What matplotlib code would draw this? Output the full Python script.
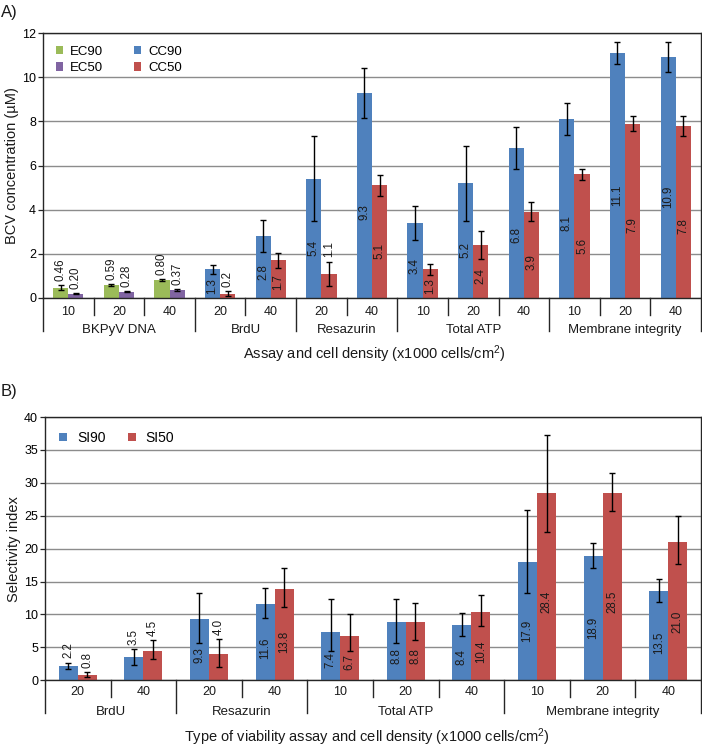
import matplotlib
matplotlib.use('Agg')
import matplotlib.pyplot as plt
import numpy as np

plt.rcParams['font.family'] = ['Liberation Sans', 'DejaVu Sans']
plt.rcParams['mathtext.default'] = 'regular'

# ---- panel A data ----
density_a = ['10', '20', '40', '20', '40', '20', '40', '10', '20', '40', '10', '20', '40']
assay_a = ['BKPyV DNA', 'BrdU', 'Resazurin', 'Total ATP', 'Membrane integrity']
assay_a_n = [3, 2, 2, 3, 3]
ec90 = [0.46, 0.59, 0.80]
ec90_err = [0.12, 0.03, 0.05]
ec50 = [0.20, 0.28, 0.37]
ec50_err = [0.04, 0.02, 0.04]
cc90 = [1.3, 2.8, 5.4, 9.3, 3.4, 5.2, 6.8, 8.1, 11.1, 10.9]
cc90_err = [0.2, 0.72, 1.92, 1.13, 0.76, 1.7, 0.95, 0.72, 0.5, 0.67]
cc50 = [0.2, 1.7, 1.1, 5.1, 1.3, 2.4, 3.9, 5.6, 7.9, 7.8]
cc50_err = [0.1, 0.35, 0.55, 0.48, 0.26, 0.65, 0.43, 0.25, 0.33, 0.45]

# ---- panel B data ----
density_b = ['20', '40', '20', '40', '10', '20', '40', '10', '20', '40']
assay_b = ['BrdU', 'Resazurin', 'Total ATP', 'Membrane integrity']
assay_b_n = [2, 2, 3, 3]
si90 = [2.2, 3.5, 9.3, 11.6, 7.4, 8.8, 8.4, 17.9, 18.9, 13.5]
si90_lo = [0.5, 1.1, 3.6, 2.1, 2.9, 3.2, 1.6, 4.6, 1.9, 1.65]
si90_hi = [0.5, 1.25, 4.0, 2.4, 4.95, 3.6, 1.9, 8.0, 2.0, 1.9]
si50 = [0.8, 4.5, 4.0, 13.8, 6.7, 8.8, 10.4, 28.4, 28.5, 21.0]
si50_lo = [0.35, 1.3, 2.0, 2.7, 2.25, 2.7, 2.1, 5.9, 2.8, 3.3]
si50_hi = [0.4, 1.6, 2.2, 3.2, 3.4, 3.0, 2.6, 8.8, 3.05, 4.0]

GREEN = '#9BBB59'
PURPLE = '#8064A2'
BLUE = '#4F81BD'
RED = '#C0504D'
TXT = '#1a1a1a'


def style_axes(ax, ymax, step):
    ax.set_ylim(0, ymax)
    ax.set_yticks(np.arange(0, ymax + step / 2, step))
    ax.yaxis.grid(True, color='#8c8c8c', lw=1.0)
    ax.set_axisbelow(True)
    ax.set_xticks([])
    ax.tick_params(axis='y', length=3.5, width=0.9, pad=1.5, labelsize=9, color='#262626')
    for s in ax.spines.values():
        s.set_color('#262626')
        s.set_linewidth(1.0)


def group_axis(ax, density, assays, counts, tick_px, cat_px, minor_px, major_px):
    h = ax.bbox.height
    tr = ax.get_xaxis_transform()
    majors = np.concatenate([[0], np.cumsum(counts)]) - 0.5
    for b in np.arange(len(density) + 1) - 0.5:
        L = major_px if np.isclose(majors, b).any() else minor_px
        ax.plot([b, b], [0, -L / h], transform=tr, color='#262626', lw=1.0, clip_on=False)
    for i, d in enumerate(density):
        ax.text(i, -tick_px / h, d, transform=tr, ha='center', va='center', fontsize=9, color=TXT)
    for j, name in enumerate(assays):
        ax.text((majors[j] + majors[j + 1]) / 2, -cat_px / h, name, transform=tr,
                ha='center', va='center', fontsize=9.5, color=TXT)


def bar_labels(ax, x, vals, hi, fmt, thresh):
    for xi, v, e in zip(x, vals, hi):
        if v < thresh:
            ax.annotate(fmt.format(v), (xi, v + e), xytext=(0, 3), textcoords='offset points',
                        rotation=90, ha='center', va='bottom', fontsize=8.3, color=TXT)
        else:
            ax.text(xi, v * 0.42, fmt.format(v), rotation=90, ha='center', va='center',
                    fontsize=8.3, color=TXT)


fig = plt.figure(figsize=(7.02, 7.49), dpi=100)
W, H = 702.0, 749.0

# ================= panel A =================
axA = fig.add_axes([43 / W, 1 - 298 / H, 658 / W, 265 / H])
style_axes(axA, 12, 2)
axA.set_xlim(-0.5, 12.5)
bw = 0.30
err_kw = dict(ecolor='black', elinewidth=1.0, capsize=2.2, capthick=1.0)

xe = np.arange(3)
xc = np.arange(3, 13)
axA.bar(xe - bw / 2, ec90, bw, color=GREEN, yerr=ec90_err, error_kw=err_kw, label='EC90')
axA.bar(xe + bw / 2, ec50, bw, color=PURPLE, yerr=ec50_err, error_kw=err_kw, label='EC50')
axA.bar(xc - bw / 2, cc90, bw, color=BLUE, yerr=cc90_err, error_kw=err_kw, label='CC90')
axA.bar(xc + bw / 2, cc50, bw, color=RED, yerr=cc50_err, error_kw=err_kw, label='CC50')

bar_labels(axA, xe - bw / 2, ec90, ec90_err, '{:.2f}', 1.2)
bar_labels(axA, xe + bw / 2, ec50, ec50_err, '{:.2f}', 1.2)
bar_labels(axA, xc - bw / 2, cc90, cc90_err, '{:.1f}', 1.2)
bar_labels(axA, xc + bw / 2, cc50, cc50_err, '{:.1f}', 1.2)

axA.legend(ncol=2, loc='upper left', frameon=False, fontsize=9.5, handlelength=0.6,
           handleheight=0.6, columnspacing=2.3, handletextpad=0.5, labelspacing=0.35,
           borderaxespad=0.55)
group_axis(axA, density_a, assay_a, assay_a_n, 14, 32, 17, 33)
axA.set_ylabel('BCV concentration (µM)', fontsize=10.5, labelpad=2, color=TXT)
fig.text(374 / W, 1 - 354 / H, 'Assay and cell density (x1000 cells/cm$^{2}$)',
         ha='center', va='center', fontsize=10.5, color=TXT)
fig.text(1 / W, 1 - 12 / H, 'A)', ha='left', va='center', fontsize=12, color=TXT)

# ================= panel B =================
axB = fig.add_axes([45 / W, 1 - 680.3 / H, 656 / W, 263.3 / H])
style_axes(axB, 40, 5)
axB.set_xlim(-0.5, 9.5)
bw = 0.29
xb = np.arange(10)
axB.bar(xb - bw / 2, si90, bw, color=BLUE, yerr=[si90_lo, si90_hi], error_kw=err_kw, label='SI90')
axB.bar(xb + bw / 2, si50, bw, color=RED, yerr=[si50_lo, si50_hi], error_kw=err_kw, label='SI50')
bar_labels(axB, xb - bw / 2, si90, si90_hi, '{:.1f}', 5)
bar_labels(axB, xb + bw / 2, si50, si50_hi, '{:.1f}', 5)

axB.legend(ncol=2, loc='upper left', frameon=False, fontsize=10, handlelength=0.6,
           handleheight=0.6, columnspacing=1.6, handletextpad=0.7, borderaxespad=0.6)
group_axis(axB, density_b, assay_b, assay_b_n, 12, 32, 17, 33)
axB.set_ylabel('Selectivity index', fontsize=10.5, labelpad=2, color=TXT)
fig.text(367 / W, 1 - 737 / H, 'Type of viability assay and cell density (x1000 cells/cm$^{2}$)',
         ha='center', va='center', fontsize=10.5, color=TXT)
fig.text(1 / W, 1 - 391 / H, 'B)', ha='left', va='center', fontsize=12, color=TXT)

fig.savefig('out.png', dpi=100)
